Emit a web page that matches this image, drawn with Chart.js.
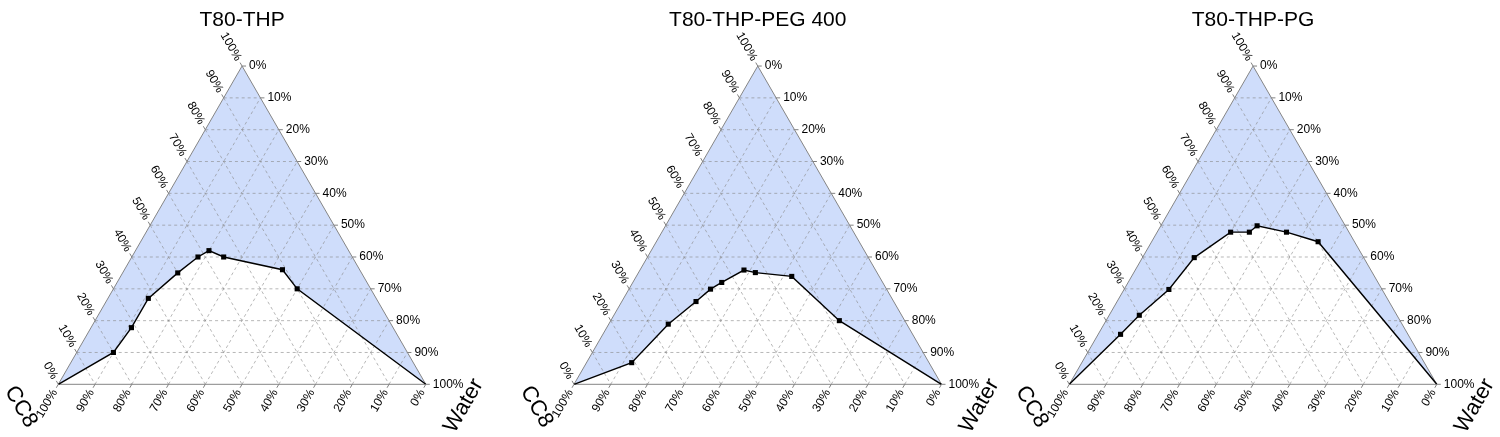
<!DOCTYPE html>
<html>
<head>
<meta charset="utf-8">
<script src="https://cdn.jsdelivr.net/npm/chart.js@4.4.1/dist/chart.umd.min.js"></script>
<style>
  html, body { margin: 0; padding: 0; background: #fff; }
  #wrap { position: relative; width: 1500px; height: 437px; overflow: hidden; }
  #wrap canvas { position: absolute; top: 0; }
</style>
</head>
<body>
<div id="wrap">
  <canvas id="c0" width="500" height="437" style="left:0px"></canvas>
  <canvas id="c1" width="500" height="437" style="left:500px"></canvas>
  <canvas id="c2" width="500" height="437" style="left:1000px"></canvas>
</div>
<script>
const titles = ["T80-THP", "T80-THP-PEG 400", "T80-THP-PG"];
const vertexLabels = ["CC8", "Water"];

// tick labels along each edge
const leftTicks = ["0%", "10%", "20%", "30%", "40%", "50%", "60%", "70%", "80%", "90%", "100%"];   // bottom -> top
const rightTicks = ["0%", "10%", "20%", "30%", "40%", "50%", "60%", "70%", "80%", "90%", "100%"];  // top -> bottom
const bottomTicks = ["100%", "90%", "80%", "70%", "60%", "50%", "40%", "30%", "20%", "10%", "0%"]; // left -> right
const gridSteps = [10, 20, 30, 40, 50, 60, 70, 80, 90];

// boundary points: % water (towards right vertex) and % surfactant mix (towards top vertex)
const thpWater = [0, 10, 11, 11, 15, 18, 20, 25, 43, 50, 100];
const thpSurf  = [0, 10, 17.8, 27, 35, 40, 42, 40, 36, 30, 0];

const pegWater = [0, 12.3, 16.2, 20.2, 22.2, 24.2, 28.3, 31.8, 42.3, 62.2, 100];
const pegSurf  = [0, 6.8, 18.9, 26, 29.9, 32, 35.9, 35.1, 33.9, 20, 0];

const pgWater = [0, 6.1, 8.2, 12.2, 14.1, 20, 25.1, 26.2, 35.2, 45.3, 100];
const pgSurf  = [0, 15.7, 21.7, 29.8, 39.8, 47.8, 47.8, 49.8, 47.8, 44.8, 0];

const seriesWater = [thpWater, pegWater, pgWater];
const seriesSurf = [thpSurf, pegSurf, pgSurf];

// layout
const SQ = Math.sqrt(3) / 2;
const PANE_W = 500, PANE_H = 437;
const SIDE_PX = 367.5, BASE_PX = 384.3;
const leftVertexPx = [58.3, 74, 69.3];
const FONT = "'Liberation Sans', Arial, Helvetica, sans-serif";

const toXY = (w, s) => ({ x: w + s / 2, y: s * SQ });

function gridDatasets() {
  const out = [];
  const line = (a, b) => ({
    data: [a, b],
    borderColor: "rgba(135,135,135,0.6)",
    borderWidth: 1,
    borderDash: [3, 3],
    pointRadius: 0,
    fill: false,
    order: 3,
  });
  for (const k of gridSteps) {
    out.push(line(toXY(0, k), toXY(100 - k, k)));       // horizontal
    out.push(line(toXY(k, 0), toXY(k, 100 - k)));       // parallel to left edge
    out.push(line(toXY(0, 100 - k), toXY(100 - k, 0))); // parallel to right edge
  }
  return out;
}

const ternaryDecor = {
  id: "ternaryDecor",
  afterDatasetsDraw(chart, args, opts) {
    const { ctx } = chart;
    const { x, y } = chart.scales;
    const P = (w, s) => { const q = toXY(w, s); return [x.getPixelForValue(q.x), y.getPixelForValue(q.y)]; };

    const tick = (p, dir, text, rot, align) => {
      const len = 4;
      ctx.beginPath();
      ctx.moveTo(p[0], p[1]);
      ctx.lineTo(p[0] + dir[0] * len, p[1] + dir[1] * len);
      ctx.stroke();
      const gap = len + 3;
      ctx.save();
      ctx.translate(p[0] + dir[0] * gap, p[1] + dir[1] * gap);
      ctx.rotate(rot);
      ctx.textAlign = align;
      ctx.textBaseline = "middle";
      ctx.fillText(text, 0, 0);
      ctx.restore();
    };

    ctx.save();
    ctx.strokeStyle = "#808080";
    ctx.lineWidth = 1;
    ctx.fillStyle = "#000";
    ctx.font = "12px " + FONT;
    for (let i = 0; i <= 10; i++) {
      const v = i * 10;
      tick(P(0, v), [-0.5, -SQ], leftTicks[i], Math.PI / 3, "right");
      tick(P(v, 100 - v), [1, 0], rightTicks[i], 0, "left");
      tick(P(v, 0), [-0.5, SQ], bottomTicks[i], -Math.PI / 3, "right");
    }

    // title over the top vertex
    const top = P(0, 100);
    ctx.font = "21px " + FONT;
    ctx.textAlign = "center";
    ctx.textBaseline = "alphabetic";
    ctx.fillText(opts.title, top[0], 26);

    // vertex names
    ctx.font = "22px " + FONT;
    ctx.textBaseline = "middle";
    const l = P(0, 0), r = P(100, 0);
    ctx.save();
    ctx.translate(l[0] - 37.5, l[1] + 22.5);
    ctx.rotate(Math.PI / 3);
    ctx.fillText(vertexLabels[0], 0, 0);
    ctx.restore();
    ctx.save();
    ctx.translate(r[0] + 38, r[1] + 21.5);
    ctx.rotate(-Math.PI / 3);
    ctx.fillText(vertexLabels[1], 0, 0);
    ctx.restore();
    ctx.restore();
  },
};

function makeChart(i) {
  const water = seriesWater[i], surf = seriesSurf[i];
  const curve = water.map((w, j) => toXY(w, surf[j]));
  const poly = [...curve, toXY(0, 100), toXY(0, 0)];
  const unit = SIDE_PX / 100;
  const xmin = -leftVertexPx[i] / unit;
  const ymin = -(PANE_H - BASE_PX) / unit;

  const datasets = [
    {
      data: poly,
      fill: "shape",
      backgroundColor: "#cfddfb",
      borderColor: "rgba(0,0,0,0)",
      borderWidth: 0,
      pointRadius: 0,
      order: 4,
    },
    ...gridDatasets(),
    {
      data: [toXY(0, 0), toXY(100, 0), toXY(0, 100), toXY(0, 0)],
      borderColor: "#858585",
      borderWidth: 1,
      pointRadius: 0,
      fill: false,
      order: 2,
    },
    {
      data: curve,
      borderColor: "#000",
      borderWidth: 1.4,
      fill: false,
      pointStyle: "rect",
      pointRadius: curve.map((_, j) => (j === 0 || j === curve.length - 1 ? 0 : 3.6)),
      pointBackgroundColor: "#000",
      pointBorderWidth: 0,
      order: 0,
    },
  ];

  return new Chart(document.getElementById("c" + i), {
    type: "line",
    data: { datasets },
    options: {
      responsive: false,
      animation: false,
      events: [],
      layout: { padding: 0 },
      elements: { line: { tension: 0 } },
      scales: {
        x: { type: "linear", display: false, min: xmin, max: xmin + PANE_W / unit },
        y: { type: "linear", display: false, min: ymin, max: ymin + PANE_H / unit },
      },
      plugins: {
        legend: { display: false },
        tooltip: { enabled: false },
        ternaryDecor: { title: titles[i] },
      },
    },
    plugins: [ternaryDecor],
  });
}

[0, 1, 2].forEach(makeChart);
</script>
</body>
</html>
